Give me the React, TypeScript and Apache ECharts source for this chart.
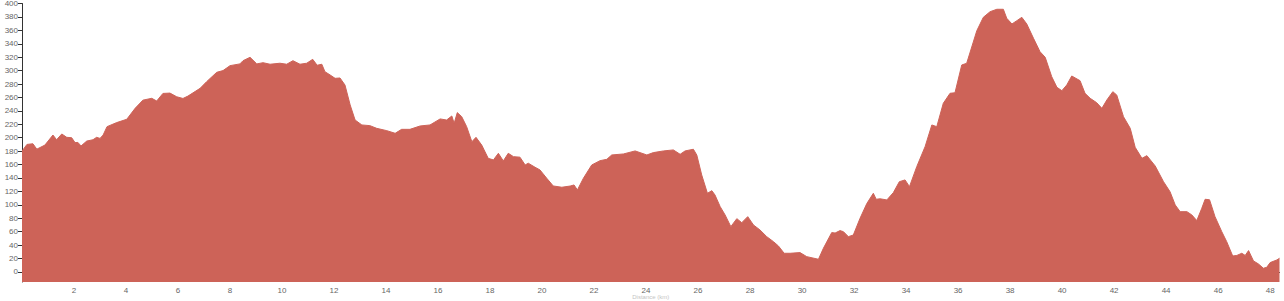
import React, { useEffect, useRef } from "react";
import * as echarts from "echarts";

const distances: number[] = [
  0, 0.19, 0.42, 0.57, 0.88, 1.19, 1.33, 1.53, 1.72, 1.91, 2.04, 2.15, 2.27, 2.49, 2.73, 2.87, 3.0, 3.12, 3.27, 3.64,
  4.03, 4.35, 4.65, 4.99, 5.18, 5.42, 5.69, 5.95, 6.19, 6.38, 6.85, 7.1, 7.49, 7.73, 8.0, 8.38, 8.5, 8.77, 9.03, 9.27,
  9.54, 9.92, 10.18, 10.42, 10.69, 10.95, 11.18, 11.35, 11.53, 11.65, 11.85, 12.04, 12.23, 12.42, 12.62, 12.81, 13.07, 13.38, 13.64, 14.03,
  14.35, 14.6, 14.92, 15.31, 15.69, 16.08, 16.33, 16.53, 16.62, 16.74, 16.91, 17.1, 17.3, 17.46, 17.68, 17.93, 18.13, 18.32, 18.51, 18.7,
  18.9, 19.15, 19.35, 19.47, 19.73, 19.92, 20.18, 20.43, 20.76, 21.08, 21.23, 21.36, 21.59, 21.91, 22.23, 22.49, 22.68, 23.13, 23.58, 24.03,
  24.28, 24.67, 25.05, 25.31, 25.5, 25.82, 25.95, 26.14, 26.36, 26.53, 26.65, 26.85, 27.04, 27.26, 27.49, 27.68, 27.91, 28.13, 28.38, 28.64,
  28.9, 29.09, 29.31, 29.54, 29.92, 30.18, 30.63, 30.82, 31.14, 31.27, 31.46, 31.59, 31.78, 31.97, 32.23, 32.49, 32.74, 32.85, 33.0, 33.26,
  33.51, 33.74, 33.96, 34.13, 34.41, 34.73, 34.99, 35.18, 35.43, 35.69, 35.88, 36.14, 36.33, 36.72, 36.97, 37.23, 37.49, 37.74, 37.87, 38.07,
  38.26, 38.45, 38.64, 38.9, 39.15, 39.35, 39.6, 39.8, 39.99, 40.18, 40.37, 40.69, 40.88, 41.08, 41.33, 41.53, 41.72, 41.95, 42.1, 42.36,
  42.62, 42.81, 43.07, 43.26, 43.58, 43.9, 44.15, 44.35, 44.54, 44.8, 44.99, 45.18, 45.37, 45.5, 45.67, 45.88, 46.14, 46.33, 46.56, 46.72,
  46.91, 47.04, 47.17, 47.36, 47.55, 47.74, 47.87, 48.0, 48.26, 48.36,
];

const elevations: number[] = [
  180, 190, 191, 183, 189, 204, 197, 205.6, 200.6, 200, 192.7, 193, 187.7, 195, 197, 200.6, 199, 204, 216.5, 222.5,
  227.5, 243.8, 256, 258.7, 254.7, 266, 266.5, 261, 258.5, 262, 273.6, 283.5, 297.5, 300, 307.4, 310, 314.8, 319.8, 310, 311.8,
  309.5, 311, 309.5, 314.8, 309.5, 311, 316.8, 308, 309.5, 298.4, 293.5, 288.5, 289, 278.6, 248.8, 226.4, 219, 218, 214, 210.5,
  206.6, 212.5, 212.5, 217.5, 219, 228, 226.4, 232.4, 221.5, 237.4, 231.4, 216.5, 194, 200.6, 189, 169.3, 166.9, 176.8, 165.4, 176.8,
  171.8, 171, 159.4, 162, 156, 152, 139.6, 128.1, 126.2, 128, 129.6, 122.2, 139.6, 159.4, 165.8, 167.8, 174.3, 175.8, 180.3, 174.3,
  177.8, 180.3, 181.8, 175.3, 180.3, 182.8, 174.3, 144.5, 117.2, 121.1, 114.7, 97.3, 84.9, 67.5, 79.4, 73.4, 82.4, 70, 62.6, 52.6,
  45.1, 38.7, 27.8, 27.8, 28.8, 22.8, 18.9, 35.3, 58.6, 58, 61.6, 60, 52.6, 55, 80, 102, 117.2, 108.3, 109, 107.3,
  118.2, 134.5, 137.1, 127.1, 156.9, 186.7, 219, 216.5, 251.3, 266.2, 267, 308.4, 310.9, 359.5, 379.4, 387.8, 391.4, 391.4, 378, 369.5,
  374.4, 379.4, 369.5, 348.1, 328.2, 319.8, 291, 275.1, 270.1, 278.6, 292, 285, 266.2, 258.7, 252.2, 243.8, 256.2, 268.6, 263.7, 231.4,
  214, 185.7, 169.3, 173.3, 157.9, 134.5, 119.6, 99.8, 89.8, 89.8, 84.9, 76.5, 94.8, 108.3, 107.5, 82.4, 60, 45.1, 23.8, 24.6,
  27.8, 24.6, 31.8, 16.4, 11.9, 5.5, 6.9, 13.9, 17.9, 20.4,
];

const yTicks: number[] = [0, 20, 40, 60, 80, 100, 120, 140, 160, 180, 200, 220, 240, 260, 280, 300, 320, 340, 360, 380, 400];
const xTicks: number[] = [2, 4, 6, 8, 10, 12, 14, 16, 18, 20, 22, 24, 26, 28, 30, 32, 34, 36, 38, 40, 42, 44, 46, 48];
const xAxisName = "Distance (km)";

export default function App() {
  const ref = useRef<HTMLDivElement>(null);

  useEffect(() => {
    if (!ref.current) return;
    const chart = echarts.init(ref.current, undefined, { renderer: "svg" });
    const data = distances.map((d, i) => [d, elevations[i]]);
    const labelStyle = { color: "#666", fontSize: 8, fontFamily: "Liberation Sans, Arial, sans-serif" };
    chart.setOption({
      animation: false,
      backgroundColor: "#ffffff",
      grid: { left: 22, right: 4.5, top: 3.5, bottom: 19, containLabel: false, outerBoundsMode: "none" },
      xAxis: {
        type: "value",
        min: 0,
        max: distances[distances.length - 1],
        name: xAxisName,
        nameLocation: "middle",
        nameGap: 12,
        nameMoveOverlap: false,
        nameTextStyle: { color: "#c4c4c4", fontSize: 6, lineHeight: 6, fontFamily: "Liberation Sans, Arial, sans-serif" },
        axisLine: { show: true, lineStyle: { color: "#333", width: 1 } },
        axisTick: { show: true, length: 4, lineStyle: { color: "#333" }, customValues: xTicks },
        axisLabel: { ...labelStyle, margin: 4, customValues: xTicks },
        splitLine: { show: false },
      },
      yAxis: {
        type: "value",
        min: -15,
        max: 400,
        axisLine: { show: true, lineStyle: { color: "#333", width: 1 } },
        axisTick: { show: true, length: 4, lineStyle: { color: "#333" }, customValues: yTicks },
        axisLabel: { ...labelStyle, margin: 4, customValues: yTicks },
        splitLine: { show: false },
      },
      series: [
        {
          type: "line",
          data,
          showSymbol: false,
          symbol: "none",
          smooth: false,
          lineStyle: { color: "#cd6358", width: 1 },
          areaStyle: { color: "#cd6358", opacity: 1, origin: "start" },
          z: 1,
        },
      ],
    });
    return () => chart.dispose();
  }, []);

  return (
    <div
      ref={ref}
      style={{ position: "fixed", left: 0, top: 0, width: 1284, height: 301, background: "#fff" }}
    />
  );
}
